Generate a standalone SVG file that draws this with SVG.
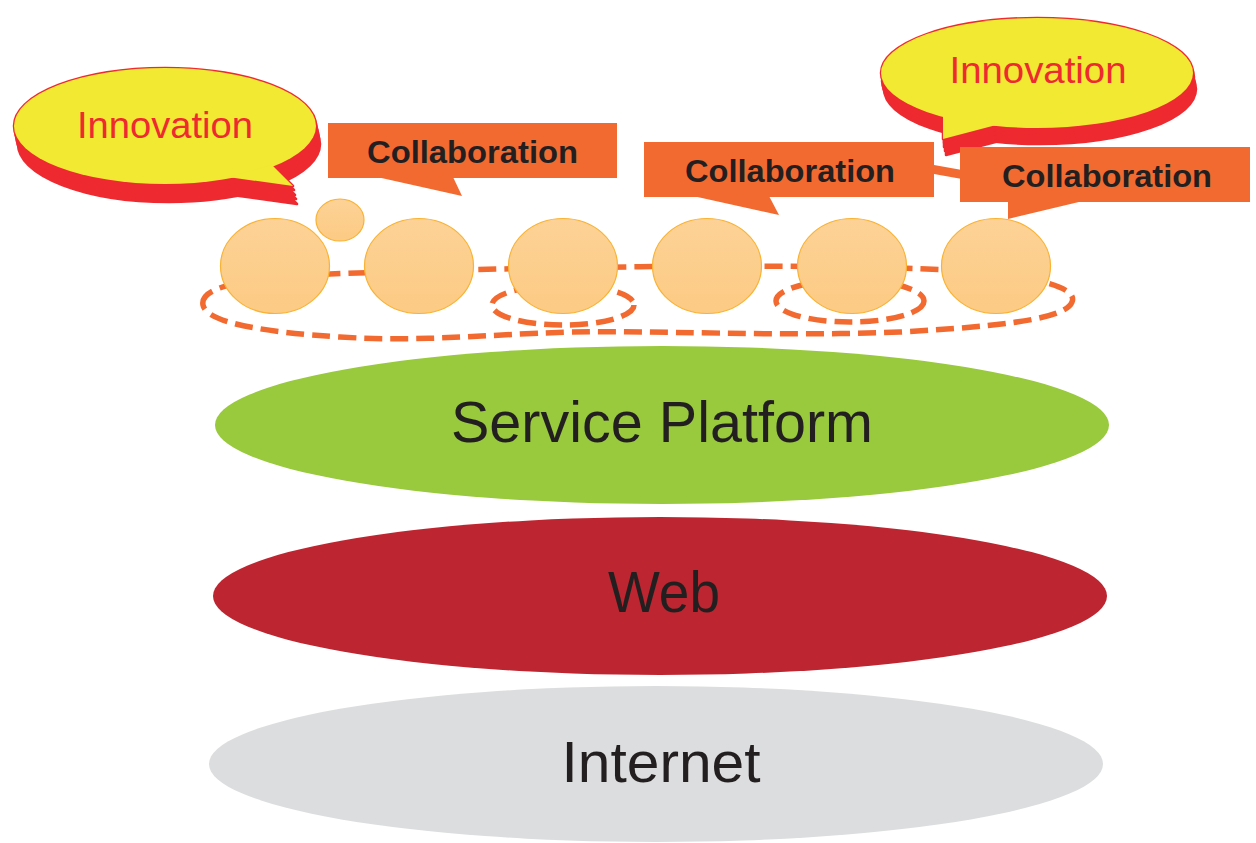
<svg xmlns="http://www.w3.org/2000/svg" width="1256" height="843" viewBox="0 0 1256 843">
<style>
.layer-label{font-family:"Liberation Sans",Arial,sans-serif;font-size:57px;fill:#231F20;text-anchor:middle}
.innov{font-family:"Liberation Sans",Arial,sans-serif;font-size:37px;fill:#EE2A30;text-anchor:middle}
.collab{font-family:"Liberation Sans",Arial,sans-serif;font-weight:bold;font-size:32px;fill:#231F20;text-anchor:middle}
.box{fill:#F26A30}
.dash{fill:none;stroke:#F26A30;stroke-width:5.5;stroke-dasharray:18 8}
.person{fill:url(#pg);stroke:#F9B233;stroke-width:1.2}
.shadow{fill:#EE2A30;stroke:#EE2A30;stroke-width:2.5;stroke-linejoin:round}
.yellow{fill:#F1E932}
</style>
<defs>
<linearGradient id="pg" x1="0" y1="0" x2="0" y2="1">
<stop offset="0" stop-color="#FDD296"/>
<stop offset="1" stop-color="#FCCB84"/>
</linearGradient>
<g id="bubbleL">
<ellipse cx="165" cy="126" rx="151" ry="58"/>
<polygon points="272,165 293,186 228,177"/>
</g>
<g id="bubbleR">
<ellipse cx="1037" cy="73" rx="156" ry="55"/>
<polygon points="943,105 943,139 1000,124"/>
</g>
</defs>
<rect width="1256" height="843" fill="#FFFFFF"/>

<g id="layer-internet">
<ellipse cx="656" cy="764" rx="447" ry="78" fill="#DCDDDE"/>
<text class="layer-label" x="661" y="782" textLength="199" lengthAdjust="spacingAndGlyphs">Internet</text>
</g>
<g id="layer-web">
<ellipse cx="660" cy="596" rx="447" ry="79" fill="#BD2630"/>
<text class="layer-label" x="664" y="612" textLength="112" lengthAdjust="spacingAndGlyphs">Web</text>
</g>
<g id="layer-service-platform">
<ellipse cx="662" cy="425" rx="447" ry="79" fill="#99C93D"/>
<text class="layer-label" x="662" y="442" textLength="422" lengthAdjust="spacingAndGlyphs">Service Platform</text>
</g>

<g id="connectors">
<path class="dash" d="M 203,305 C 200,290 230,278 330,274 C 480,268 800,262 950,270 C 1040,276 1078,288 1072,302 C 1066,318 1010,326 900,332 C 780,337 650,330 570,332 C 480,335 420,342 340,337 C 260,332 206,322 203,305 Z"/>
<ellipse class="dash" cx="563" cy="305" rx="71" ry="20"/>
<ellipse class="dash" cx="850" cy="301" rx="74" ry="21"/>
<polygon class="box" points="934,165 962,170 962,179 934,174"/>
</g>

<g id="people">
<ellipse class="person" cx="340" cy="220" rx="24" ry="21"/>
<ellipse class="person" cx="275" cy="266" rx="54.5" ry="47.5"/>
<ellipse class="person" cx="419" cy="266" rx="54.5" ry="47.5"/>
<ellipse class="person" cx="563" cy="266" rx="54.5" ry="47.5"/>
<ellipse class="person" cx="707" cy="266" rx="54.5" ry="47.5"/>
<ellipse class="person" cx="852" cy="266" rx="54.5" ry="47.5"/>
<ellipse class="person" cx="996" cy="266" rx="54.5" ry="47.5"/>
</g>

<g id="innovation-left">
<use href="#bubbleL" class="shadow" transform="translate(4,18)"/>
<use href="#bubbleL" class="shadow" transform="translate(3,13)"/>
<use href="#bubbleL" class="shadow" transform="translate(2,9)"/>
<use href="#bubbleL" class="shadow" transform="translate(1,4)"/>
<use href="#bubbleL" class="shadow"/>
<use href="#bubbleL" class="yellow"/>
<text class="innov" x="165" y="138" textLength="176" lengthAdjust="spacingAndGlyphs">Innovation</text>
</g>

<g id="collaboration-1">
<rect class="box" x="328" y="123" width="289" height="55"/>
<polygon class="box" points="377,177 462,196 453,177"/>
<text class="collab" x="472.5" y="163" textLength="211" lengthAdjust="spacingAndGlyphs">Collaboration</text>
</g>

<g id="collaboration-2">
<rect class="box" x="644" y="142" width="290" height="55"/>
<polygon class="box" points="693,196 779,215 769,196"/>
<text class="collab" x="790" y="182" textLength="210" lengthAdjust="spacingAndGlyphs">Collaboration</text>
</g>

<g id="innovation-right">
<use href="#bubbleR" class="shadow" transform="translate(3,16)"/>
<use href="#bubbleR" class="shadow" transform="translate(2,12)"/>
<use href="#bubbleR" class="shadow" transform="translate(1,8)"/>
<use href="#bubbleR" class="shadow" transform="translate(1,4)"/>
<use href="#bubbleR" class="shadow"/>
<use href="#bubbleR" class="yellow"/>
<text class="innov" x="1038" y="83" textLength="177" lengthAdjust="spacingAndGlyphs">Innovation</text>
</g>

<g id="collaboration-3">
<rect class="box" x="960" y="147" width="290" height="55"/>
<polygon class="box" points="1008,201 1008,219 1083,201"/>
<text class="collab" x="1107" y="187" textLength="210" lengthAdjust="spacingAndGlyphs">Collaboration</text>
</g>
</svg>
